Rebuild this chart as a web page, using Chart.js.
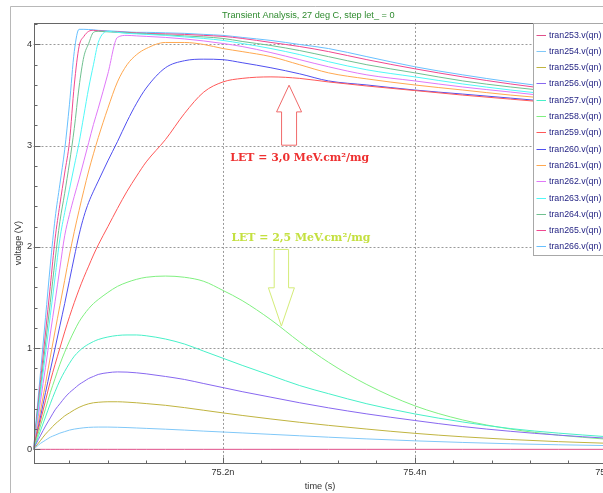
<!DOCTYPE html>
<html>
<head>
<meta charset="utf-8">
<script src="https://cdn.jsdelivr.net/npm/chart.js@4.4.1/dist/chart.umd.min.js"></script>
<style>
  html, body { margin: 0; padding: 0; background: #fff; overflow: hidden; }
  #wrap { width: 620px; height: 493px; }
</style>
</head>
<body>
<div id="wrap"><canvas id="c" width="620" height="493"></canvas></div>
<script>
// Simulation time points (ns)
const timeNs = [75.0025, 75.005, 75.01, 75.015, 75.02, 75.025, 75.03, 75.035, 75.04, 75.045,
                75.05, 75.055, 75.06, 75.065, 75.07, 75.08, 75.09, 75.10, 75.11, 75.12,
                75.14, 75.16, 75.18, 75.20, 75.22, 75.25, 75.28, 75.31, 75.35, 75.40,
                75.45, 75.50, 75.55, 75.60];

const seriesNames = ['tran253.v(qn)', 'tran254.v(qn)', 'tran255.v(qn)', 'tran256.v(qn)',
                     'tran257.v(qn)', 'tran258.v(qn)', 'tran259.v(qn)', 'tran260.v(qn)',
                     'tran261.v(qn)', 'tran262.v(qn)', 'tran263.v(qn)', 'tran264.v(qn)',
                     'tran265.v(qn)', 'tran266.v(qn)'];

// v(qn) in volts for each step
const tran253 = [0, 0, 0, 0, 0, 0, 0, 0, 0, 0, 0, 0, 0, 0, 0, 0, 0, 0, 0, 0,
                 0, 0, 0, 0, 0, 0, 0, 0, 0, 0, 0, 0, 0, 0];
const tran254 = [0, 0.02, 0.06, 0.09, 0.12, 0.14, 0.16, 0.175, 0.19, 0.2,
                 0.207, 0.213, 0.217, 0.219, 0.22, 0.22, 0.218, 0.215, 0.211, 0.207,
                 0.199, 0.19, 0.18, 0.171, 0.162, 0.148, 0.134, 0.12, 0.103, 0.084,
                 0.068, 0.055, 0.045, 0.037];
const tran255 = [0, 0.03, 0.09, 0.15, 0.2, 0.25, 0.29, 0.33, 0.36, 0.39,
                 0.415, 0.435, 0.45, 0.46, 0.465, 0.47, 0.47, 0.466, 0.46, 0.452,
                 0.435, 0.412, 0.386, 0.36, 0.335, 0.3, 0.267, 0.237, 0.2, 0.158,
                 0.124, 0.097, 0.076, 0.06];
const tran256 = [0, 0.05, 0.14, 0.23, 0.31, 0.39, 0.45, 0.51, 0.56, 0.6,
                 0.64, 0.67, 0.7, 0.72, 0.74, 0.757, 0.765, 0.763, 0.756, 0.746,
                 0.72, 0.69, 0.65, 0.61, 0.57, 0.515, 0.46, 0.41, 0.35, 0.285,
                 0.225, 0.178, 0.14, 0.11];
const tran257 = [0, 0.06, 0.19, 0.32, 0.45, 0.57, 0.68, 0.77, 0.85, 0.92,
                 0.97, 1.01, 1.04, 1.065, 1.085, 1.11, 1.125, 1.13, 1.13, 1.122,
                 1.09, 1.04, 0.97, 0.9, 0.83, 0.73, 0.63, 0.55, 0.45, 0.35,
                 0.27, 0.205, 0.16, 0.125];
const tran258 = [0, 0.08, 0.24, 0.4, 0.56, 0.7, 0.84, 0.96, 1.07, 1.17,
                 1.26, 1.33, 1.39, 1.44, 1.48, 1.55, 1.61, 1.65, 1.68, 1.7,
                 1.712, 1.7, 1.66, 1.57, 1.47, 1.28, 1.06, 0.86, 0.64, 0.43,
                 0.29, 0.2, 0.14, 0.1];
const tran259 = [0, 0.1, 0.29, 0.48, 0.67, 0.84, 1.0, 1.16, 1.31, 1.45,
                 1.58, 1.7, 1.81, 1.92, 2.02, 2.2, 2.38, 2.55, 2.7, 2.84,
                 3.06, 3.32, 3.53, 3.63, 3.665, 3.68, 3.665, 3.63, 3.59, 3.545,
                 3.5, 3.46, 3.42, 3.38];
const tran260 = [0, 0.11, 0.33, 0.56, 0.78, 1.0, 1.22, 1.44, 1.67, 1.9,
                 2.12, 2.3, 2.44, 2.55, 2.65, 2.85, 3.04, 3.24, 3.42, 3.57,
                 3.77, 3.84, 3.855, 3.85, 3.82, 3.77, 3.71, 3.64, 3.6, 3.55,
                 3.51, 3.47, 3.43, 3.4];
const tran261 = [0, 0.13, 0.39, 0.65, 0.91, 1.17, 1.42, 1.67, 1.92, 2.15,
                 2.36, 2.56, 2.75, 2.92, 3.08, 3.37, 3.63, 3.8, 3.9, 3.96,
                 4.02, 4.02, 4.0, 3.96, 3.93, 3.88, 3.8, 3.72, 3.66, 3.6,
                 3.55, 3.5, 3.46, 3.42];
const tran262 = [0, 0.16, 0.49, 0.81, 1.14, 1.46, 1.79, 2.11, 2.32, 2.5,
                 2.67, 2.85, 3.03, 3.21, 3.37, 3.71, 4.07, 4.09, 4.085, 4.08,
                 4.07, 4.055, 4.035, 4.01, 3.98, 3.92, 3.85, 3.78, 3.7, 3.64,
                 3.58, 3.53, 3.48, 3.44];
const tran263 = [0, 0.19, 0.57, 0.94, 1.32, 1.7, 2.08, 2.34, 2.57, 2.8,
                 3.03, 3.3, 3.57, 3.8, 4.02, 4.13, 4.12, 4.11, 4.105, 4.1,
                 4.09, 4.075, 4.06, 4.04, 4.01, 3.96, 3.9, 3.83, 3.75, 3.68,
                 3.61, 3.55, 3.5, 3.46];
const tran264 = [0, 0.21, 0.62, 1.04, 1.45, 1.87, 2.25, 2.53, 2.83, 3.17,
                 3.58, 3.88, 4.01, 4.12, 4.13, 4.125, 4.12, 4.115, 4.11, 4.105,
                 4.095, 4.085, 4.075, 4.06, 4.03, 3.99, 3.94, 3.88, 3.8, 3.72,
                 3.64, 3.58, 3.53, 3.48];
const tran265 = [0, 0.23, 0.69, 1.15, 1.61, 2.08, 2.42, 2.73, 3.04, 3.6,
                 3.98, 4.08, 4.13, 4.14, 4.135, 4.13, 4.125, 4.12, 4.115, 4.11,
                 4.105, 4.1, 4.09, 4.08, 4.06, 4.02, 3.98, 3.93, 3.85, 3.76,
                 3.68, 3.61, 3.55, 3.5];
const tran266 = [0, 0.26, 0.78, 1.3, 1.82, 2.28, 2.62, 2.96, 3.41, 3.93,
                 4.15, 4.15, 4.148, 4.145, 4.14, 4.135, 4.13, 4.125, 4.12, 4.12,
                 4.115, 4.11, 4.1, 4.09, 4.07, 4.04, 4.0, 3.96, 3.88, 3.78,
                 3.7, 3.63, 3.57, 3.52];

const seriesValues = [tran253, tran254, tran255, tran256, tran257, tran258, tran259,
                      tran260, tran261, tran262, tran263, tran264, tran265, tran266];

// Labelled (major) ticks; minor ticks fall every step in between
const xMajorTicks = [75.2, 75.4, 75.6];
const yMajorTicks = [0, 1, 2, 3, 4];
const xTickStep = 0.04;
const yTickStep = 0.2;

// Trace colours
const seriesColors = ['#e0508a', '#80c8f8', '#c0b440', '#8868f0', '#48f0c8', '#80f080', '#ff5858',
                      '#5050f0', '#ffa850', '#e078f8', '#50f8f8', '#70c090', '#f04890', '#68c0ff'];

// LET call-outs: text anchor and hollow arrow, in axis units (ns, V)
const letNotes = [
  { text: 'LET = 3,0 MeV.cm\u00B2/mg', color: '#ee3030', arrowColor: '#f06a6a',
    textX: 75.2077, textY: 2.85, arrowX: 75.2689, tipY: 3.598, headY: 3.334, tailY: 3.005,
    headHalf: 12.5, shaftHalf: 7.5 },
  { text: 'LET = 2,5 MeV.cm\u00B2/mg', color: '#c4e040', arrowColor: '#d4ec78',
    textX: 75.2088, textY: 2.055, arrowX: 75.2609, tipY: 1.218, headY: 1.596, tailY: 1.975,
    headHalf: 13, shaftHalf: 7.2 }
];

const FONT = "'Liberation Sans', Arial, sans-serif";
const isMajor = (v, list) => list.some(m => Math.abs(v - m) < 1e-6);

const plotChrome = {
  id: 'plotChrome',
  beforeDraw(chart) {
    const { ctx, width, height } = chart;
    ctx.save();
    ctx.fillStyle = '#ffffff';
    ctx.fillRect(0, 0, width, height);
    ctx.strokeStyle = '#b8b8b8';
    ctx.lineWidth = 1;
    ctx.beginPath();
    ctx.moveTo(10.5, height);
    ctx.lineTo(10.5, 6.5);
    ctx.lineTo(width, 6.5);
    ctx.stroke();
    ctx.restore();
  },
  beforeDatasetsDraw(chart) {
    const { ctx, chartArea: a, scales: { x, y } } = chart;
    ctx.save();
    ctx.strokeStyle = '#9a9a9a';
    ctx.lineWidth = 1;
    ctx.setLineDash([2, 2]);
    ctx.beginPath();
    xMajorTicks.forEach(v => {
      const px = Math.round(x.getPixelForValue(v)) + 0.5;
      if (px < a.right - 1) { ctx.moveTo(px, a.top); ctx.lineTo(px, a.bottom); }
    });
    yMajorTicks.forEach(v => {
      if (v === 0) return;
      const py = Math.round(y.getPixelForValue(v)) + 0.5;
      ctx.moveTo(a.left, py); ctx.lineTo(a.right, py);
    });
    ctx.stroke();
    ctx.restore();
  },
  afterDatasetsDraw(chart) {
    const { ctx, chartArea: a, scales: { x, y } } = chart;
    const L = Math.round(a.left) + 0.5, R = Math.round(a.right) + 0.5;
    const T = Math.round(a.top) + 0.5, B = Math.round(a.bottom) + 0.5;
    ctx.save();
    // frame
    ctx.strokeStyle = '#666';
    ctx.lineWidth = 1;
    ctx.strokeRect(L, T, R - L, B - T);
    // inward tick marks
    ctx.beginPath();
    x.ticks.forEach(t => {
      const px = Math.round(x.getPixelForValue(t.value)) + 0.5;
      const len = isMajor(t.value, xMajorTicks) ? 6 : 3;
      ctx.moveTo(px, B); ctx.lineTo(px, B - len);
    });
    y.ticks.forEach(t => {
      const py = Math.round(y.getPixelForValue(t.value)) + 0.5;
      const len = isMajor(t.value, yMajorTicks) ? 6 : 3;
      ctx.moveTo(L, py); ctx.lineTo(L + len, py);
    });
    ctx.stroke();

    // LET call-outs
    letNotes.forEach(n => {
      ctx.font = "bold 10.9px 'DejaVu Serif', serif";
      ctx.fillStyle = n.color;
      ctx.textBaseline = 'alphabetic';
      ctx.textAlign = 'left';
      ctx.fillText(n.text, x.getPixelForValue(n.textX), y.getPixelForValue(n.textY));

      const cx = x.getPixelForValue(n.arrowX);
      const tip = y.getPixelForValue(n.tipY);
      const head = y.getPixelForValue(n.headY);
      const tail = y.getPixelForValue(n.tailY);
      ctx.strokeStyle = n.arrowColor;
      ctx.lineWidth = 1;
      ctx.beginPath();
      ctx.moveTo(cx, tip);
      ctx.lineTo(cx + n.headHalf, head);
      ctx.lineTo(cx + n.shaftHalf, head);
      ctx.lineTo(cx + n.shaftHalf, tail);
      ctx.lineTo(cx - n.shaftHalf, tail);
      ctx.lineTo(cx - n.shaftHalf, head);
      ctx.lineTo(cx - n.headHalf, head);
      ctx.closePath();
      ctx.stroke();
    });

    // legend box
    const lx = Math.round(a.right - 74) + 0.5;
    const ly = T;
    const rowH = 16.3;
    const boxH = Math.round(rowH * chart.data.datasets.length + 4);
    ctx.fillStyle = '#ffffff';
    ctx.fillRect(lx, ly, 120, boxH);
    ctx.strokeStyle = '#a8a8a8';
    ctx.strokeRect(lx, ly, 120, boxH);
    ctx.font = '8.8px ' + FONT;
    ctx.textBaseline = 'middle';
    ctx.textAlign = 'left';
    chart.data.datasets.forEach((ds, i) => {
      const cy = Math.round(ly + 11 + i * rowH) + 0.5;
      ctx.strokeStyle = ds.borderColor;
      ctx.beginPath();
      ctx.moveTo(lx + 3, cy); ctx.lineTo(lx + 12.5, cy);
      ctx.stroke();
      ctx.fillStyle = '#1e1e80';
      ctx.fillText(ds.label, lx + 15.5, cy);
    });
    ctx.restore();
  }
};

const datasets = seriesNames.map((name, k) => ({
  label: name,
  data: timeNs.map((t, i) => ({ x: t, y: seriesValues[k][i] })),
  borderColor: seriesColors[k],
  backgroundColor: seriesColors[k],
  borderWidth: 1,
  pointRadius: 0,
  fill: false,
  cubicInterpolationMode: 'monotone'
}));

new Chart(document.getElementById('c'), {
  type: 'line',
  data: { datasets },
  plugins: [plotChrome],
  options: {
    responsive: false,
    animation: false,
    devicePixelRatio: 1,
    layout: { padding: { left: 10, right: 13.3, top: 0, bottom: 0 } },
    plugins: {
      legend: { display: false },
      tooltip: { enabled: false },
      title: {
        display: true,
        text: 'Transient Analysis, 27 deg C, step let_ = 0',
        color: '#2e8a2e',
        font: { family: FONT, size: 9.2, weight: 'normal' },
        padding: { top: 10, bottom: 1.9 }
      }
    },
    scales: {
      x: {
        type: 'linear',
        min: 75.0025,
        max: 75.6,
        grid: { display: false, drawTicks: false },
        border: { display: false },
        ticks: {
          stepSize: xTickStep,
          includeBounds: false,
          autoSkip: false,
          maxRotation: 0,
          padding: 4,
          color: '#333',
          font: { family: FONT, size: 9.2 },
          callback: v => isMajor(v, xMajorTicks) ? v.toFixed(1) + 'n' : ''
        },
        title: {
          display: true, text: 'time (s)', color: '#333',
          font: { family: FONT, size: 9.2 },
          padding: { top: 0, bottom: 0.6 }
        },
        afterFit(s) { s.height = 29.7; s.paddingLeft = 0; s.paddingRight = 0; }
      },
      y: {
        type: 'linear',
        min: -0.138,
        max: 4.213,
        grid: { display: false, drawTicks: false },
        border: { display: false },
        ticks: {
          stepSize: yTickStep,
          includeBounds: false,
          autoSkip: false,
          padding: 1.5,
          color: '#333',
          font: { family: FONT, size: 9.2 },
          callback: v => isMajor(v, yMajorTicks) ? String(Math.round(v)) : ''
        },
        title: {
          display: true, text: 'voltage (V)', color: '#333',
          font: { family: FONT, size: 9.2 },
          padding: { top: 2.6, bottom: 0 }
        },
        afterFit(s) { s.width = 23.5; s.paddingTop = 0; s.paddingBottom = 0; }
      }
    }
  }
});
</script>
</body>
</html>
